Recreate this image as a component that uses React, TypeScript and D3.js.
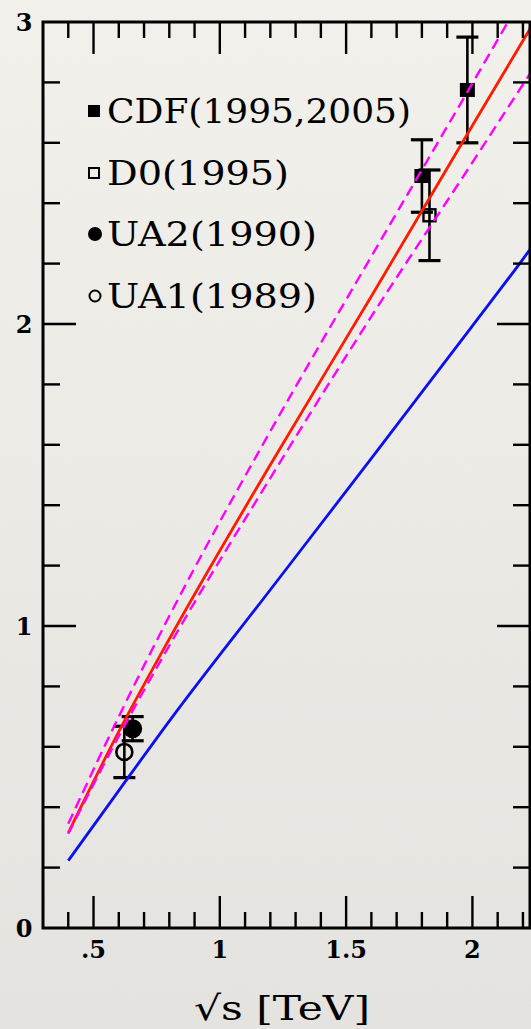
import React from "react";
import * as d3 from "d3";

// Theory curves sampled along sqrt(s) [TeV]
const curveX = [0.4, 0.6, 0.8, 1.2, 1.6, 2.0, 2.2, 2.235];
const redY = [0.315, 0.65, 0.957, 1.534, 2.092, 2.657, 2.938, 2.987];
const blueY = [0.223, 0.455, 0.685, 1.12, 1.555, 1.994, 2.215, 2.255];
const magentaUpperY = [0.345, 0.70, 1.033, 1.645, 2.224, 2.797, 3.085, 3.135];
const magentaLowerY = [0.312, 0.635, 0.935, 1.49, 2.025, 2.535, 2.793, 2.838];

// Measurements
const cdfX = [1.8, 1.98];
const cdfY = [2.49, 2.775];
const cdfErr = [0.12, 0.175];
const d0X = [1.83];
const d0Y = [2.36];
const d0Err = [0.15];
const ua2X = [0.655];
const ua2Y = [0.66];
const ua2Err = [0.04];
const ua1X = [0.622];
const ua1Y = [0.583];
const ua1Err = [0.085];

const legendLabels = ["CDF(1995,2005)", "D0(1995)", "UA2(1990)", "UA1(1989)"];
const legendWidths = [304, 182, 210, 210];

const xMajorTicks = [0.5, 1, 1.5, 2];
const xTickLabels = [".5", "1", "1.5", "2"];
const yMajorTicks = [0, 1, 2, 3];
const yTickLabels = ["0", "1", "2", "3"];

const W = 531;
const H = 1029;
const left = 43;
const right = 530;
const top = 22;
const bottom = 928;

export default function App() {
  const x = d3.scaleLinear().domain([0.3, 0.3 + (right - left) / 252.6]).range([left, right]);
  const y = d3.scaleLinear().domain([0, 3]).range([bottom, top]);

  const line = d3
    .line<[number, number]>()
    .x((d) => x(d[0]))
    .y((d) => y(d[1]))
    .curve(d3.curveMonotoneX);
  const pts = (ys: number[]) => curveX.map((v, i) => [v, ys[i]] as [number, number]);

  const xMinor = d3.range(4, 23).map((v) => v / 10).filter((v) => !xMajorTicks.some((m) => Math.abs(m - v) < 1e-6));
  const yMinor = d3.range(1, 15).map((v) => v / 5).filter((v) => !yMajorTicks.some((m) => Math.abs(m - v) < 1e-6));

  const font = "'DejaVu Serif', 'Liberation Serif', serif";
  const capW = 11;

  const errorBar = (cx: number, cy: number, e: number, key: string) => (
    <g key={key} stroke="#000" strokeWidth={2.6}>
      <line x1={x(cx)} x2={x(cx)} y1={y(cy - e)} y2={y(cy + e)} />
      <line x1={x(cx) - capW} x2={x(cx) + capW} y1={y(cy + e)} y2={y(cy + e)} strokeWidth={3.2} />
      <line x1={x(cx) - capW} x2={x(cx) + capW} y1={y(cy - e)} y2={y(cy - e)} strokeWidth={3.2} />
    </g>
  );

  const legendRowY = [123, 185, 246, 308];

  return (
    <svg width={W} height={H} style={{ position: "absolute", left: 0, top: 0 }}>
      <defs>
        <linearGradient id="paper" x1="0" y1="0" x2="0" y2="1">
          <stop offset="0" stopColor="#f4f2ed" />
          <stop offset="1" stopColor="#e5e4e0" />
        </linearGradient>
        <filter id="grain" x="0" y="0" width="100%" height="100%">
          <feTurbulence type="fractalNoise" baseFrequency="0.9" numOctaves="2" seed="3" />
          <feColorMatrix type="matrix" values="0 0 0 0 0.5  0 0 0 0 0.5  0 0 0 0 0.5  0 0 0 0.06 0" />
        </filter>
        <clipPath id="plot">
          <rect x={left} y={top} width={right - left} height={bottom - top} />
        </clipPath>
      </defs>
      <rect x={0} y={0} width={W} height={H} fill="url(#paper)" />
      <rect x={0} y={0} width={W} height={H} filter="url(#grain)" />

      {/* measurements */}
      {ua1X.map((v, i) => errorBar(v, ua1Y[i], ua1Err[i], `e1${i}`))}
      {ua2X.map((v, i) => errorBar(v, ua2Y[i], ua2Err[i], `e2${i}`))}
      {ua1X.map((v, i) => (
        <circle key={`u1${i}`} cx={x(v)} cy={y(ua1Y[i])} r={8} fill="none" stroke="#000" strokeWidth={2.6} />
      ))}
      {ua2X.map((v, i) => (
        <circle key={`u2${i}`} cx={x(v)} cy={y(ua2Y[i])} r={9.5} fill="#000" />
      ))}
      {d0X.map((v, i) => errorBar(v, d0Y[i], d0Err[i], `ed${i}`))}
      {cdfX.map((v, i) => errorBar(v, cdfY[i], cdfErr[i], `ec${i}`))}
      {d0X.map((v, i) => (
        <rect key={`d0${i}`} x={x(v) - 6} y={y(d0Y[i]) - 6} width={12} height={12} fill="none" stroke="#000" strokeWidth={2.4} />
      ))}
      {cdfX.map((v, i) => (
        <rect key={`cdf${i}`} x={x(v) - 7.5} y={y(cdfY[i]) - 7} width={15} height={14} fill="#000" />
      ))}

      {/* theory curves, drawn over the data */}
      <g clipPath="url(#plot)" fill="none">
        <path d={line(pts(blueY)) ?? ""} stroke="#0a10ee" strokeWidth={2.8} />
        <path d={line(pts(redY)) ?? ""} stroke="#ff1a00" strokeWidth={2.8} />
        <path d={line(pts(magentaUpperY)) ?? ""} stroke="#ff00ff" strokeWidth={2.4} strokeDasharray="11 6" />
        <path d={line(pts(magentaLowerY)) ?? ""} stroke="#ff00ff" strokeWidth={2.4} strokeDasharray="11 6" />
      </g>

      {/* frame and ticks */}
      <g stroke="#000" strokeWidth={2.4}>
        {xMajorTicks.map((t) => (
          <g key={`xM${t}`}>
            <line x1={x(t)} x2={x(t)} y1={bottom} y2={bottom - 32} />
            <line x1={x(t)} x2={x(t)} y1={top} y2={top + 32} />
          </g>
        ))}
        {xMinor.map((t) => (
          <g key={`xm${t}`}>
            <line x1={x(t)} x2={x(t)} y1={bottom} y2={bottom - 16} />
            <line x1={x(t)} x2={x(t)} y1={top} y2={top + 16} />
          </g>
        ))}
        {yMajorTicks.slice(1, -1).map((t) => (
          <g key={`yM${t}`}>
            <line x1={left} x2={left + 33} y1={y(t)} y2={y(t)} />
            <line x1={right} x2={right - 33} y1={y(t)} y2={y(t)} />
          </g>
        ))}
        {yMinor.map((t) => (
          <g key={`ym${t}`}>
            <line x1={left} x2={left + 17} y1={y(t)} y2={y(t)} />
            <line x1={right} x2={right - 17} y1={y(t)} y2={y(t)} />
          </g>
        ))}
        <rect x={left} y={top} width={right - left} height={bottom - top} fill="none" strokeWidth={3} />
      </g>

      {/* tick labels */}
      <g fontFamily={font} fontWeight="bold" fontSize={24} fill="#000">
        {yMajorTicks.map((t, i) => (
          <text key={`yl${t}`} x={24} y={y(t) + 8.5} textAnchor="middle">
            {yTickLabels[i]}
          </text>
        ))}
        {xMajorTicks.map((t, i) => (
          <text key={`xl${t}`} x={x(t)} y={958} textAnchor="middle">
            {xTickLabels[i]}
          </text>
        ))}
      </g>
      <text x={282} y={1020} textAnchor="middle" fontFamily={font} fontSize={34} textLength={176} lengthAdjust="spacingAndGlyphs">
        √s [TeV]
      </text>

      {/* legend */}
      <g fontFamily={font} fontSize={34} fill="#000">
        <rect x={88} y={legendRowY[0] - 18} width={12} height={12} fill="#000" />
        <rect x={89} y={legendRowY[1] - 17} width={10} height={10} fill="none" stroke="#000" strokeWidth={2} />
        <circle cx={95} cy={legendRowY[2] - 12} r={7} fill="#000" />
        <circle cx={95} cy={legendRowY[3] - 12} r={5.5} fill="none" stroke="#000" strokeWidth={2} />
        {legendLabels.map((l, i) => (
          <text key={l} x={107} y={legendRowY[i]} textLength={legendWidths[i]} lengthAdjust="spacingAndGlyphs">
            {l}
          </text>
        ))}
      </g>
    </svg>
  );
}
